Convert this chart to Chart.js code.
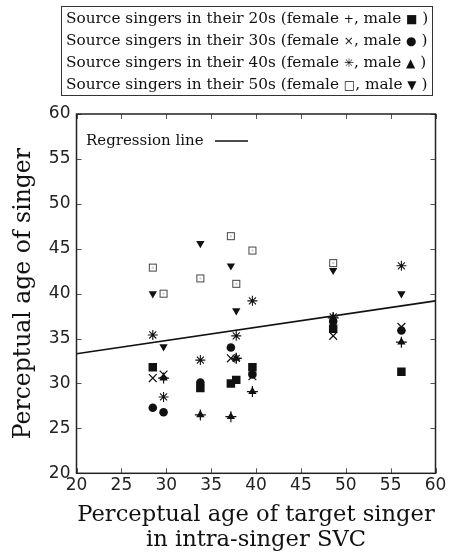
<!DOCTYPE html>
<html>
<head>
<meta charset="utf-8">
<script src="https://cdn.jsdelivr.net/npm/chart.js@4.4.0/dist/chart.umd.min.js"></script>
<style>
  body { margin: 0; background: #fff; }
  #wrap { position: relative; width: 449px; height: 560px; }
  #key {
    position: absolute; left: 61px; top: 6px; width: 366px; height: 87px;
    border: 1.5px solid #333; padding: 1px 0 0 4px; color: #111;
    font-family: "DejaVu Serif"; font-size: 15.3px; line-height: 21px; white-space: nowrap;
  }
  .s { font-family: "DejaVu Sans"; font-size: 12px; }
  canvas { position: absolute; left: 0; top: 0; }
</style>
</head>
<body>
<div id="wrap">
  <canvas id="age-chart" width="449" height="560"></canvas>
  <div id="key">
    <div>Source singers in their 20s (female <span class="s">+</span>, male <span class="s">■</span> )</div>
    <div>Source singers in their 30s (female <span class="s">×</span>, male <span class="s">●</span> )</div>
    <div>Source singers in their 40s (female <span class="s">✳</span>, male <span class="s">▲</span> )</div>
    <div>Source singers in their 50s (female <span class="s">□</span>, male <span class="s">▼</span> )</div>
  </div>
</div>
<script>
// valores
const tickValues = [20, 25, 30, 35, 40, 45, 50, 55, 60];

const female20s = [[29.7, 30.6], [33.8, 26.5], [37.2, 26.3], [37.8, 32.8], [39.6, 29.1], [48.6, 37.3], [56.2, 34.6]];
const male20s   = [[28.5, 31.8], [33.8, 29.5], [37.2, 30.0], [37.8, 30.4], [39.6, 31.8], [48.6, 36.1], [56.2, 31.3]];
const female30s = [[28.5, 30.6], [29.7, 31.0], [37.2, 32.8], [39.6, 30.8], [48.6, 35.3], [56.2, 36.3]];
const male30s   = [[28.5, 27.3], [29.7, 26.8], [33.8, 30.1], [37.2, 34.0], [39.6, 31.0], [48.6, 36.9], [56.2, 35.9]];
const female40s = [[28.5, 35.4], [29.7, 28.5], [33.8, 32.6], [37.8, 35.3], [37.8, 32.8], [39.6, 39.2], [48.6, 37.4], [56.2, 43.1]];
const male40s   = [[29.7, 30.6], [33.8, 26.5], [37.2, 26.3], [37.8, 32.8], [39.6, 29.1], [48.6, 37.3], [56.2, 34.6]];
const female50s = [[28.5, 42.9], [29.7, 40.0], [33.8, 41.7], [37.2, 46.4], [37.8, 41.1], [39.6, 44.8], [48.6, 43.4]];
const male50s   = [[28.5, 40.0], [29.7, 34.1], [33.8, 45.6], [37.2, 43.1], [37.8, 38.1], [48.6, 42.6], [56.2, 40.0]];

const regression = [[20, 33.3], [60, 39.2]];

const xTitle = ['Perceptual age of target singer', 'in intra-singer SVC'];
const yTitle = 'Perceptual age of singer';

const toPts = arr => arr.map(p => ({ x: p[0], y: p[1] }));

// cuadrado abierto con punto central
const openSquare = document.createElement('canvas');
openSquare.width = 10; openSquare.height = 10;
(function () {
  const c = openSquare.getContext('2d');
  c.strokeStyle = '#444'; c.lineWidth = 1;
  c.strokeRect(1.5, 1.5, 7, 7);
  c.fillStyle = '#333';
  c.fillRect(4.5, 4.5, 1, 1);
})();

const ink = '#111';

const frame = {
  id: 'frame',
  afterDraw(chart) {
    const { ctx, chartArea: a, scales } = chart;
    ctx.save();
    ctx.strokeStyle = '#555';
    ctx.lineWidth = 1;
    tickValues.forEach(v => {
      const px = Math.round(scales.x.getPixelForValue(v)) + 0.5;
      const py = Math.round(scales.y.getPixelForValue(v)) + 0.5;
      ctx.beginPath();
      ctx.moveTo(px, a.bottom); ctx.lineTo(px, a.bottom - 5);
      ctx.moveTo(px, a.top); ctx.lineTo(px, a.top + 5);
      ctx.moveTo(a.left, py); ctx.lineTo(a.left + 5, py);
      ctx.moveTo(a.right, py); ctx.lineTo(a.right - 5, py);
      ctx.stroke();
    });
    ctx.strokeStyle = '#222';
    ctx.lineWidth = 1.5;
    ctx.strokeRect(a.left, a.top, a.right - a.left, a.bottom - a.top);

    // leyenda de la recta de regresión
    ctx.fillStyle = ink;
    ctx.font = '15px "DejaVu Serif"';
    ctx.textBaseline = 'middle';
    ctx.fillText('Regression line', 86, 141);
    ctx.beginPath();
    ctx.lineWidth = 1.6;
    ctx.strokeStyle = ink;
    ctx.moveTo(215, 141); ctx.lineTo(248, 141);
    ctx.stroke();
    ctx.restore();
  }
};

const ctx = document.getElementById('age-chart').getContext('2d');
new Chart(ctx, {
  type: 'scatter',
  data: {
    datasets: [
      { label: 'Regression line', type: 'line', data: toPts(regression), borderColor: ink, borderWidth: 1.6, pointRadius: 0, fill: false },
      { label: 'female 20s', data: toPts(female20s), pointStyle: 'cross', radius: 5.5, borderColor: ink, borderWidth: 1.2 },
      { label: 'female 30s', data: toPts(female30s), pointStyle: 'crossRot', radius: 5.5, borderColor: ink, borderWidth: 1.2 },
      { label: 'female 40s', data: toPts(female40s), pointStyle: 'star', radius: 5, borderColor: ink, borderWidth: 1.1 },
      { label: 'female 50s', data: toPts(female50s), pointStyle: openSquare, radius: 5 },
      { label: 'male 20s', data: toPts(male20s), pointStyle: 'rect', radius: 6, backgroundColor: ink, borderColor: ink, borderWidth: 0 },
      { label: 'male 30s', data: toPts(male30s), pointStyle: 'circle', radius: 4.3, backgroundColor: ink, borderColor: ink, borderWidth: 0 },
      { label: 'male 40s', data: toPts(male40s), pointStyle: 'triangle', radius: 4.8, backgroundColor: ink, borderColor: ink, borderWidth: 0 },
      { label: 'male 50s', data: toPts(male50s), pointStyle: 'triangle', rotation: 180, radius: 4.8, backgroundColor: ink, borderColor: ink, borderWidth: 0 }
    ]
  },
  options: {
    responsive: false,
    animation: false,
    layout: { padding: { top: 114, right: 13.5, left: 0, bottom: 0 } },
    plugins: { legend: { display: false }, tooltip: { enabled: false } },
    scales: {
      x: {
        type: 'linear', min: 20, max: 60,
        afterFit(s) { s.height = 86.7; },
        afterBuildTicks(s) { s.ticks = tickValues.map(v => ({ value: v })); },
        grid: { display: false, drawTicks: false },
        border: { display: false },
        ticks: { padding: 2, color: '#222', maxRotation: 0, font: { family: 'DejaVu Sans', size: 17 } },
        title: { display: true, text: xTitle, color: ink, padding: { bottom: 7.3 }, font: { family: 'DejaVu Serif', size: 22.6, lineHeight: 1.1 } }
      },
      y: {
        type: 'linear', min: 20, max: 60,
        afterFit(s) { s.width = 76.5; },
        afterBuildTicks(s) { s.ticks = tickValues.map(v => ({ value: v })); },
        grid: { display: false, drawTicks: false },
        border: { display: false },
        ticks: { padding: 6, color: '#222', font: { family: 'DejaVu Sans', size: 17 } },
        title: { display: true, text: yTitle, color: ink, padding: { top: 11.3 }, font: { family: 'DejaVu Serif', size: 23.5, lineHeight: 1.1 } }
      }
    }
  },
  plugins: [frame]
});
</script>
</body>
</html>
